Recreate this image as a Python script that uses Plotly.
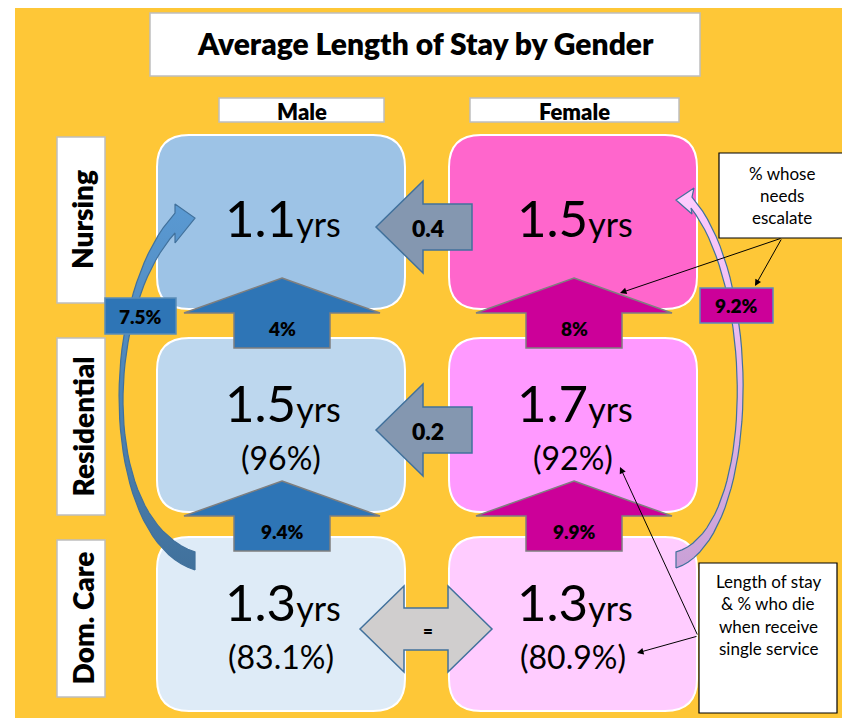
import numpy as np
import plotly.graph_objects as go

# ---- data -------------------------------------------------------------
services = ["Nursing", "Residential", "Dom. Care"]
genders = ["Male", "Female"]
male_stay = [1.1, 1.5, 1.3]          # years
female_stay = [1.5, 1.7, 1.3]
male_died = [None, 96, 83.1]         # % who die when receiving a single service
female_died = [None, 92, 80.9]
male_step_up = [4, 9.4]              # Residential->Nursing, Dom. Care->Residential
female_step_up = [8, 9.9]
skip_to_nursing = [7.5, 9.2]         # Dom. Care straight to Nursing (male, female)

# ---- layout constants ----------------------------------------------------
FONT = "Lato"
ORANGE = "#FEC737"
COL_X0 = [157, 449]
BOX_W = 248
ROW_Y0 = [135, 338, 537]
BOX_H = 174
FILLS = [["#9DC3E6", "#BDD7EE", "#DEEBF7"], ["#FF66CC", "#FF99FF", "#FFCCFF"]]
UP_FILL = ["#2E75B6", "#CC0099"]
EDGE = "#41719C"
PAGE_PAD = 8  # body margin of the html page
HEAVY = 800

fig = go.Figure()
shapes = []
annos = []


def rrect(x0, y0, x1, y1, r):
    return (f"M {x0+r},{y0} L {x1-r},{y0} Q {x1},{y0} {x1},{y0+r} L {x1},{y1-r} "
            f"Q {x1},{y1} {x1-r},{y1} L {x0+r},{y1} Q {x0},{y1} {x0},{y1-r} "
            f"L {x0},{y0+r} Q {x0},{y0} {x0+r},{y0} Z")


def poly(pts):
    return "M " + " L ".join(f"{x},{y}" for x, y in pts) + " Z"


def rect(x0, y0, x1, y1, fill, line, width=1, layer="below"):
    shapes.append(dict(type="rect", x0=x0, y0=y0, x1=x1, y1=y1, fillcolor=fill,
                       line=dict(color=line, width=width), layer=layer))


def text(x, y, s, size, bold=False, angle=0, anchor="center"):
    annos.append(dict(x=x, y=y, text=s, showarrow=False,
                      xanchor=anchor, yanchor="middle", textangle=angle,
                      font=dict(family=FONT, size=size, color="black",
                                weight=HEAVY if bold else "normal")))


def pointer(x0, y0, x1, y1):
    annos.append(dict(x=x1, y=y1, ax=x0, ay=y0, axref="x", ayref="y", xref="x", yref="y",
                      text="", showarrow=True, arrowhead=2, arrowsize=1.3,
                      arrowwidth=1, arrowcolor="black", standoff=0))


def bez(p0, p1, p2, p3, n=40):
    t = np.linspace(0, 1, n)[:, None]
    p0, p1, p2, p3 = map(np.array, (p0, p1, p2, p3))
    return (1-t)**3*p0 + 3*(1-t)**2*t*p1 + 3*(1-t)*t**2*p2 + t**3*p3


# background
rect(15, 4, 843, 718, ORANGE, ORANGE, 0)

# title and headers
rect(150, 13, 700, 76, "white", "#BFBFBF", 1.5)
text(425, 43, "Average Length of Stay by Gender", 30, bold=True)
for (x0, x1), g in zip([(219, 384), (470, 679)], genders):
    rect(x0, 98, x1, 122, "white", "#BFBFBF", 1.5)
    text((x0 + x1) / 2, 111, g, 22, bold=True)

# row labels
for (y0, y1), s in zip([(137, 303), (338, 515), (540, 697)], services):
    rect(57, y0, 105, y1, "white", "#BFBFBF", 1.5)
    text(82, (y0 + y1) / 2, s, 28, bold=True, angle=-90)

# service boxes with stay lengths
stays = [male_stay, female_stay]
died = [male_died, female_died]
for g in range(2):
    cx = COL_X0[g] + BOX_W / 2
    for r in range(3):
        y0 = ROW_Y0[r]
        shapes.append(dict(type="path", path=rrect(COL_X0[g], y0, COL_X0[g] + BOX_W, y0 + BOX_H, 32),
                           fillcolor=FILLS[g][r], line=dict(color="white", width=2), layer="below"))
        num = f"{stays[g][r]}<span style='font-size:34px'>yrs</span>"
        if died[g][r] is None:
            text(cx + 2, y0 + 82, num, 51)
        else:
            text(cx + 2, y0 + 64, num, 51)
            text(cx, y0 + 119, f"({died[g][r]}%)", 32)

# upward step arrows between services
steps = [male_step_up, female_step_up]
for g in range(2):
    cx = COL_X0[g] + BOX_W / 2 + 1
    for r in range(2):
        tip = ROW_Y0[r] + BOX_H - 31
        pts = [(cx, tip), (cx + 98, tip + 35), (cx + 48, tip + 35), (cx + 48, tip + 70),
               (cx - 48, tip + 70), (cx - 48, tip + 35), (cx - 98, tip + 35)]
        shapes.append(dict(type="path", path=poly(pts), fillcolor=UP_FILL[g],
                           line=dict(color="#7F7F7F", width=1.5), layer="below"))
        text(cx, tip + 50, f"{steps[g][r]}%", 19, bold=True)

# female -> male difference arrows
gaps = [round(f - m, 1) for m, f in zip(male_stay, female_stay)]
xm = COL_X0[0] + BOX_W
for r in range(3):
    cy = ROW_Y0[r] + 92
    if gaps[r] == 0:
        lt, rt = xm - 45, xm + 87
        pts = [(lt, cy), (lt + 44, cy - 43), (lt + 44, cy - 21), (rt - 44, cy - 21),
               (rt - 44, cy - 43), (rt, cy), (rt - 44, cy + 43), (rt - 44, cy + 21),
               (lt + 44, cy + 21), (lt + 44, cy + 43)]
        fill, label = "#D0CECE", "="
    else:
        tip = xm - 29
        pts = [(tip, cy), (tip + 47, cy - 46), (tip + 47, cy - 23), (tip + 96, cy - 23),
               (tip + 96, cy + 23), (tip + 47, cy + 23), (tip + 47, cy + 46)]
        fill, label = "#8497B0", f"{gaps[r]}"
    shapes.append(dict(type="path", path=poly(pts), fillcolor=fill,
                       line=dict(color=EDGE, width=1.5), layer="below"))
    text(xm + 23, cy + 1, label, 23 if label != "=" else 17, bold=True)

# curved arrows from Dom. Care straight to Nursing
left = np.vstack([bez((195, 570), (100, 540), (95, 300), (175, 213)),
                  [(175, 204), (195, 218), (175, 243)],
                  bez((175, 233), (105, 310), (100, 520), (195, 552))])
right = np.vstack([bez((676, 568), (760, 540), (765, 280), (692, 197)),
                   [(694, 188), (676, 200), (692, 214)],
                   bez((691, 208), (755, 290), (755, 530), (676, 552))])
for pts, c0, c1 in [(left, "#41719C", "#5B9BD5"), (right, "#C9A0D6", "#FFCCFF")]:
    fig.add_trace(go.Scatter(x=np.append(pts[:, 0], pts[0, 0]), y=np.append(pts[:, 1], pts[0, 1]),
                             mode="lines", fill="toself", line=dict(color=EDGE, width=1.2),
                             fillgradient=dict(type="vertical", start=570, stop=190,
                                               colorscale=[[0, c0], [1, c1]]),
                             hoverinfo="skip"))

for (x0, y0, x1, y1), v, c in zip([(105, 298, 176, 334), (700, 288, 773, 323)],
                                  skip_to_nursing, UP_FILL):
    rect(x0, y0, x1, y1, c, "#5B8DB8", 1.5, layer="above")
    text((x0 + x1) / 2, (y0 + y1) / 2, f"{v}%", 19, bold=True)

# callout boxes
rect(719, 153, 845, 238, "white", "black", 1.2, layer="above")
for i, s in enumerate(["% whose", "needs", "escalate"]):
    text(782, 173 + 22 * i, s, 17)
pointer(782, 238, 620, 293)
pointer(782, 238, 755, 286)

rect(699, 563, 837, 713, "white", "black", 1.2, layer="above")
for i, s in enumerate(["Length of stay", "& % who die", "when receive", "single service"]):
    text(768, 581 + 22.6 * i, s, 17)
pointer(698, 636, 637, 653)
pointer(698, 636, 620, 467)

# the page body adds an 8px margin; offset the axes so the picture lands at pixel coords
fig.update_layout(
    width=850 - PAGE_PAD, height=718 - PAGE_PAD, margin=dict(l=0, r=0, t=0, b=0),
    paper_bgcolor="white", plot_bgcolor="white", showlegend=False,
    xaxis=dict(range=[PAGE_PAD, 850], visible=False, fixedrange=True),
    yaxis=dict(range=[718, PAGE_PAD], visible=False, fixedrange=True),
    shapes=shapes, annotations=annos,
)
fig.write_html("out.html")
